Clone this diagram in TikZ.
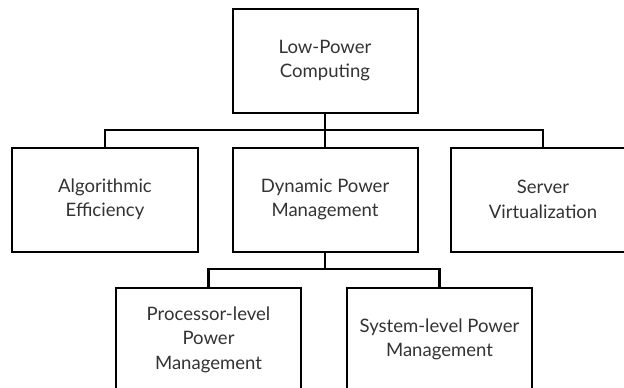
\documentclass[tikz,border=0pt]{standalone}
\usepackage{fontspec}
\setmainfont{Lato}
\begin{document}
\begin{tikzpicture}[x=1bp,y=-1bp,
  box/.style={draw=black, line width=2bp, fill=white, minimum width=185bp, minimum height=104bp,
    inner sep=0pt, align=center, text=black!80, font=\fontsize{18.6}{24.5}\selectfont},
  link/.style={draw=black, line width=2.2bp}]
\useasboundingbox (0,0) rectangle (624,387);
\clip (0,0) rectangle (624,387);
\fill[white] (0,0) rectangle (624,387);

% junction points of the connectors
\coordinate (j1) at (325,130);
\coordinate (j2) at (325,269);

% boxes
\node[box] (root) at (325,60.5) {Low-Power\\Computing};
\node[box] (alg) at (105,199.5) {Algorithmic\\Efficiency};
\node[box] (dpm) at (325,199.5) {Dynamic Power\\Management};
\node[box] (srv) at (543,199.5) {Server\\Virtualization};
\node[box] (proc) at (208.5,339.5) {Processor-level\\Power\\Management};
\node[box] (sys) at (439.5,339.5) {System-level Power\\Management};

% connectors
\draw[link] (root.south) -- (j1);
\draw[link] (alg.north) |- (j1) -| (srv.north);
\draw[link] (j1) -- (dpm.north);
\draw[link] (dpm.south) -- (j2);
\draw[link] (proc.north) |- (j2) -| (sys.north);
\end{tikzpicture}
\end{document}
